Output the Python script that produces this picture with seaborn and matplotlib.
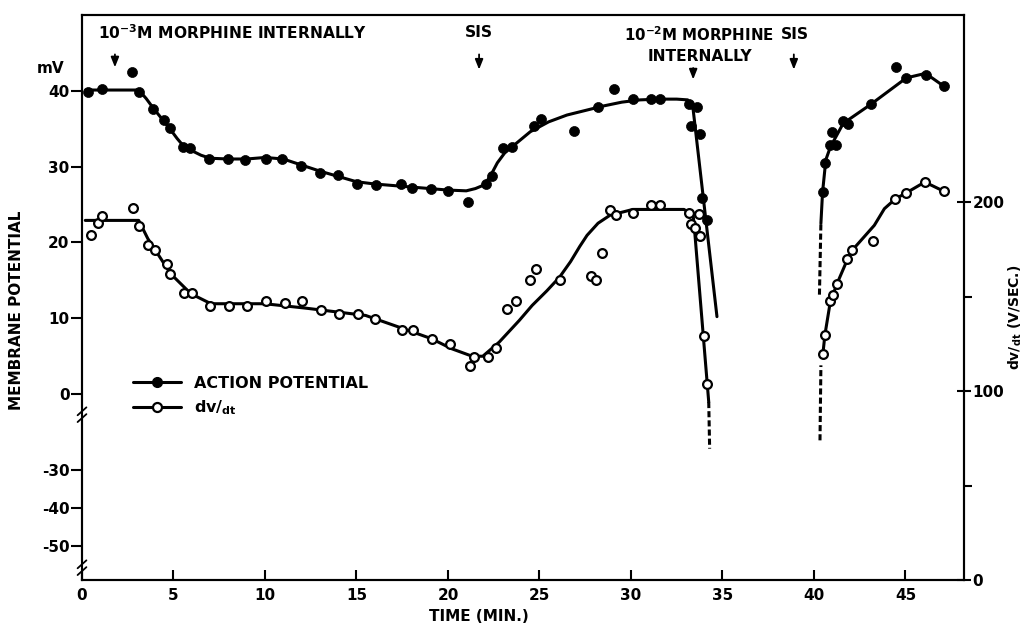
import numpy as np
import pandas as pd
import matplotlib
matplotlib.use("Agg")
import matplotlib.pyplot as plt
from matplotlib.lines import Line2D
import seaborn as sns

# ---------------- data ----------------
# Action potential (filled dots), mV
ap_t = [0.31, 1.1, 2.75, 3.1, 3.9, 4.5, 4.8, 5.5, 5.9, 6.96, 7.97, 8.9, 10.07, 10.95,
        11.96, 13.0, 14.0, 15.05, 16.06, 17.45, 18.04, 19.05, 20.0, 21.1, 22.07, 22.4,
        22.98, 23.5, 24.7, 25.1, 26.9, 28.2, 29.1, 30.1, 31.1, 31.6, 33.15, 33.3, 33.6,
        33.8, 33.9, 34.15,
        40.47, 40.6, 40.9, 40.97, 41.2, 41.6, 41.85, 43.1, 44.5, 45.05, 46.1, 47.1]
ap_mv = [39.8, 40.2, 42.5, 39.9, 37.6, 36.2, 35.1, 32.6, 32.4, 31.0, 31.0, 30.9, 31.0, 31.0,
         30.1, 29.1, 28.9, 27.7, 27.6, 27.7, 27.2, 27.0, 26.8, 25.3, 27.7, 28.7,
         32.5, 32.6, 35.3, 36.3, 34.7, 37.8, 40.2, 38.9, 38.9, 38.9, 38.2, 35.4, 37.8,
         34.3, 25.9, 23.0,
         26.6, 30.5, 32.9, 34.5, 32.9, 36.0, 35.6, 38.2, 43.1, 41.7, 42.1, 40.6]

# dv/dt (open circles), V/sec
dv_t = [0.51, 0.88, 1.12, 2.78, 3.1, 3.6, 3.97, 4.63, 4.82, 5.55, 5.99, 6.98, 8.06, 9.03,
        10.07, 11.08, 12.03, 13.06, 14.07, 15.1, 16.0, 17.5, 18.1, 19.1, 20.1, 21.2, 21.4,
        22.2, 22.6, 23.2, 23.7, 24.5, 24.8, 26.1, 27.8, 28.1, 28.4, 28.85, 29.2, 30.1,
        31.1, 31.6, 33.15, 33.3, 33.5, 33.7, 33.8, 34.0, 34.15,
        40.5, 40.6, 40.9, 41.06, 41.25, 41.8, 42.1, 43.2, 44.45, 45.05, 46.06, 47.1]
dv_v = [182.4, 189.1, 192.6, 196.8, 187.3, 177.4, 174.4, 167.4, 162.1, 152.0, 152.0, 144.8,
        144.8, 144.8, 147.6, 146.6, 147.6, 142.7, 140.9, 140.9, 137.9, 132.4, 132.4, 127.7,
        125.0, 113.1, 118.0, 118.0, 122.8, 143.2, 147.6, 158.6, 164.7, 158.6, 160.8, 158.6,
        173.2, 195.6, 193.0, 194.2, 198.6, 198.6, 194.2, 188.5, 186.2, 193.5, 181.8, 128.9,
        103.9,
        119.4, 129.8, 147.6, 151.0, 156.8, 169.7, 174.4, 179.4, 201.7, 204.9, 210.6, 205.7]

# hand-drawn fitted curves
ap_fit1_t = [0.2, 3.1, 3.5, 3.9, 4.4, 4.83, 5.2, 5.55, 6.0, 6.5, 7.0, 8.0, 9.0, 10.0, 11.0,
             12.0, 13.0, 14.0, 15.0, 16.0, 17.0, 18.0, 19.0, 20.0, 21.0, 21.5, 22.0, 22.35,
             22.7, 23.1, 23.5, 24.5, 25.5, 26.5, 27.5, 28.5, 29.5, 30.5, 31.5, 32.5, 33.1,
             33.4, 34.7]
ap_fit1_v = [40.1, 40.1, 39.0, 37.7, 36.2, 34.9, 33.7, 32.7, 32.1, 31.5, 31.1, 31.0, 31.0,
             31.2, 31.0, 30.2, 29.4, 28.7, 28.0, 27.7, 27.5, 27.3, 27.1, 26.9, 26.8, 27.1,
             27.6, 28.9, 30.5, 31.8, 32.6, 34.6, 35.9, 36.8, 37.4, 38.0, 38.5, 38.8, 38.9,
             38.9, 38.8, 37.5, 10.2]
ap_fit2_t = [40.38, 40.47, 40.65, 40.9, 41.6, 43.1, 45.05, 46.1, 47.1]
ap_fit2_v = [22.5, 26.6, 30.9, 32.6, 35.7, 38.2, 41.7, 42.3, 40.6]
ap_dash_t = [40.3, 40.38]
ap_dash_v = [13.1, 22.5]

dv_fit1_t = [0.18, 3.1, 3.6, 4.85, 5.95, 7.05, 9.98, 12.2, 15.5, 17.3, 19.1, 20.2, 21.3,
             21.9, 22.8, 23.9, 24.6, 25.4, 26.1, 26.7, 27.2, 27.6, 28.2, 28.85, 30.1, 32.9,
             33.4, 33.5, 34.25]
dv_fit1_v = [190.3, 190.3, 180.6, 162.0, 151.5, 146.2, 146.2, 143.9, 140.0, 133.9, 127.7,
             122.4, 118.5, 118.4, 125.9, 137.4, 145.3, 153.0, 160.3, 168.5, 176.5, 182.4,
             188.8, 193.0, 196.1, 196.1, 193.0, 182.4, 94.2]
dv_dash1_t = [34.25, 34.3]
dv_dash1_v = [94.2, 69.5]
dv_fit2_t = [40.48, 40.6, 40.9, 41.3, 42.0, 43.3, 43.85, 44.45, 45.05, 46.06, 47.1]
dv_fit2_v = [118.9, 129.8, 147.6, 157.7, 173.5, 187.7, 196.5, 201.7, 204.9, 210.6, 205.7]
dv_dash2_t = [40.33, 40.38]
dv_dash2_v = [73.9, 113.6]

x_ticks = [0, 5, 10, 15, 20, 25, 30, 35, 40, 45]
left_upper_ticks = [0, 10, 20, 30, 40]
left_lower_ticks = [-30, -40, -50]
right_major_ticks = [0, 100, 200]
right_minor_ticks = [50, 150]

# ---------------- style ----------------
sns.set_theme(style="white")
K = "black"
plt.rcParams["font.family"] = ["DejaVu Sans"]
plt.rcParams["font.weight"] = "bold"
plt.rcParams["text.color"] = K
plt.rcParams["axes.labelcolor"] = K
plt.rcParams["xtick.color"] = K
plt.rcParams["ytick.color"] = K
plt.rcParams["mathtext.fontset"] = "custom"
plt.rcParams["mathtext.rm"] = "DejaVu Sans:bold"
plt.rcParams["mathtext.it"] = "DejaVu Sans:bold"
plt.rcParams["mathtext.bf"] = "DejaVu Sans:bold"
plt.rcParams["mathtext.default"] = "rm"

LW = 2.2
FS = 11

L_PX, R_PX, T_PX, B_PX = 82, 964, 15, 580
fig = plt.figure(figsize=(10.28, 6.25), dpi=100)
ax = fig.add_axes([L_PX / 1028, 1 - B_PX / 625, (R_PX - L_PX) / 1028, (B_PX - T_PX) / 625])
ax2 = ax.twinx()
W = R_PX - L_PX
H = B_PX - T_PX

# left axis: broken scale; lower part compressed by factor 2
def lower_pos(v):
    return (v + 10) / 2.0

# curves
for t, v in [(ap_fit1_t, ap_fit1_v), (ap_fit2_t, ap_fit2_v)]:
    sns.lineplot(x=t, y=v, ax=ax, sort=False, estimator=None, color=K, lw=LW)
sns.lineplot(x=ap_dash_t, y=ap_dash_v, ax=ax, sort=False, estimator=None, color=K,
             lw=LW, linestyle=(0, (2, 1)))
for t, v in [(dv_fit1_t, dv_fit1_v), (dv_fit2_t, dv_fit2_v)]:
    sns.lineplot(x=t, y=v, ax=ax2, sort=False, estimator=None, color=K, lw=LW)
for t, v in [(dv_dash1_t, dv_dash1_v), (dv_dash2_t, dv_dash2_v)]:
    sns.lineplot(x=t, y=v, ax=ax2, sort=False, estimator=None, color=K, lw=LW,
                 linestyle=(0, (2, 1)))

# points
sns.scatterplot(x=ap_t, y=ap_mv, ax=ax, color=K, s=52, edgecolor=K, linewidth=0.5, zorder=5)
sns.scatterplot(x=dv_t, y=dv_v, ax=ax2, facecolor="white", s=40, edgecolor=K,
                linewidth=1.6, zorder=5)

# limits
ax.set_xlim(0, 48.2)
ax.set_ylim(-24.55, 50.0)
ax2.set_ylim(0, 299)

# ticks
ax.set_xticks(x_ticks)
ax.set_xticklabels([str(v) for v in x_ticks], fontsize=FS)
ax.tick_params(axis="x", direction="in", length=7, width=1.5, pad=6, bottom=True, top=False)

ypos = left_upper_ticks + [lower_pos(v) for v in left_lower_ticks]
ylab = [str(v) for v in left_upper_ticks] + [str(v) for v in left_lower_ticks]
ax.set_yticks(ypos)
ax.set_yticklabels(ylab, fontsize=FS)
ax.tick_params(axis="y", direction="out", length=8, width=1.5, pad=1, left=True, right=False)

ax2.set_yticks(right_major_ticks)
ax2.set_yticklabels([str(v) for v in right_major_ticks], fontsize=FS)
ax2.set_yticks(right_minor_ticks, minor=True)
ax2.tick_params(axis="y", which="major", direction="inout", length=10, width=1.5, pad=1)
ax2.tick_params(axis="y", which="minor", direction="out", length=6, width=1.5)

for a in (ax, ax2):
    for s in a.spines.values():
        s.set_linewidth(1.5)
        s.set_color(K)

# labels
ax.set_xlabel("TIME (MIN.)", fontsize=FS, fontweight="bold")
ax.xaxis.set_label_coords((479 - L_PX) / W, -0.052)
ax.set_ylabel("MEMBRANE POTENTIAL", fontsize=FS, fontweight="bold")
ax.yaxis.set_label_coords(-0.066, 0.478)
ax2.set_ylabel(r"dv/$_{\rm dt}$ (V/SEC.)", fontsize=10, fontweight="bold")
ax2.yaxis.set_label_coords((1007 - L_PX) / W, (B_PX - 317) / H)

# axis breaks on the left spine
for yb in [(B_PX - 413) / H, (B_PX - 566) / H]:
    ax.plot([0, 0], [yb - 0.008, yb + 0.008], transform=ax.transAxes,
            color="white", lw=4, clip_on=False, zorder=10, solid_capstyle="butt")
    for off in (-0.006, 0.006):
        ax.plot([-0.005, 0.005], [yb - 0.010 + off, yb + 0.004 + off],
                transform=ax.transAxes, color=K, lw=1.3, clip_on=False, zorder=11)

# annotations
AFS = 11.2
ax.text(0.85, 47.7, r"10$^{-3}$M MORPHINE INTERNALLY", fontsize=AFS, va="center", ha="left")
ax.text(21.7, 47.7, "SIS", fontsize=AFS, va="center", ha="center")
ax.text(33.7, 47.4, r"10$^{-2}$M MORPHINE", fontsize=10.8, va="center", ha="center")
ax.text(33.75, 44.5, "INTERNALLY", fontsize=AFS, va="center", ha="center")
ax.text(38.95, 47.4, "SIS", fontsize=AFS, va="center", ha="center")
ax.text(-2.45, 43.0, "mV", fontsize=FS, va="center", ha="left", clip_on=False)

arrow = dict(arrowstyle="-|>,head_length=0.5,head_width=0.2", color=K, lw=1.3,
             shrinkA=0, shrinkB=0)
for (xa, y0, y1) in [(1.8, 44.8, 43.1), (21.7, 44.8, 42.8), (33.4, 43.0, 41.5),
                     (38.9, 44.8, 42.8)]:
    ax.annotate("", xy=(xa, y1), xytext=(xa, y0), arrowprops=arrow)

# legend
handles = [
    Line2D([], [], color=K, lw=LW, marker="o", markersize=7, markerfacecolor=K),
    Line2D([], [], color=K, lw=LW, marker="o", markersize=6.5, markerfacecolor="white",
           markeredgewidth=1.6),
]
leg = ax.legend(handles, ["ACTION POTENTIAL", r"dv/$_{\rm dt}$"], loc="upper left",
                bbox_to_anchor=((133 - L_PX) / W, (B_PX - 376) / H), frameon=False,
                fontsize=11.5, handlelength=3.0, handletextpad=0.8, borderpad=0,
                borderaxespad=0, labelspacing=0.45)

fig.savefig("out.png", dpi=100)
